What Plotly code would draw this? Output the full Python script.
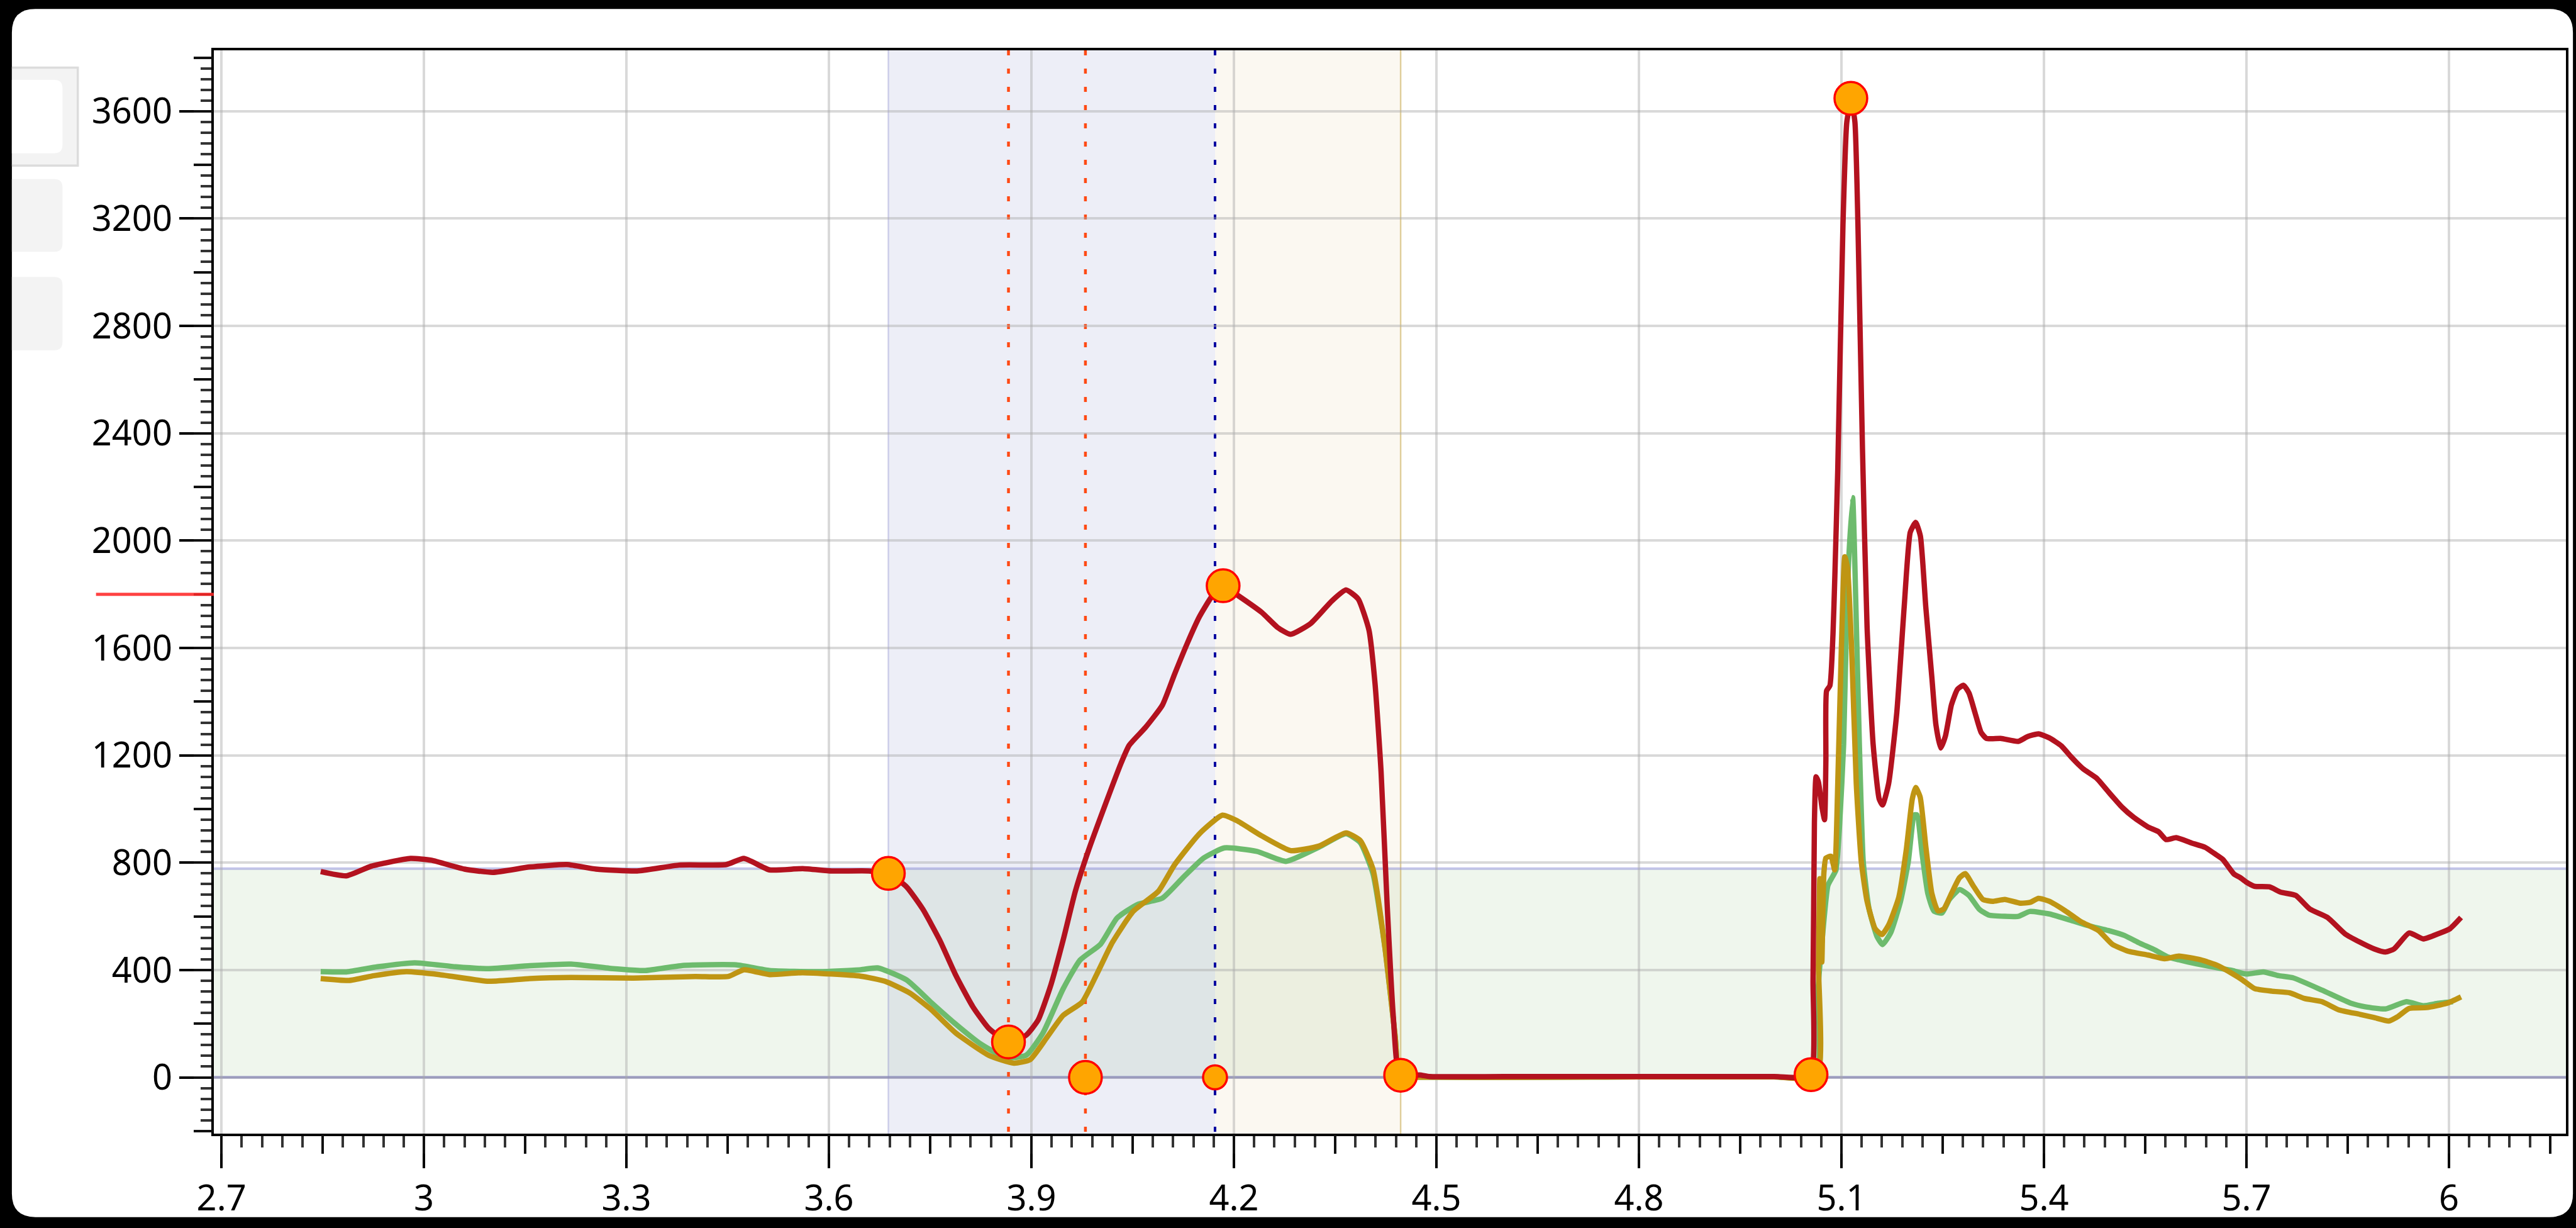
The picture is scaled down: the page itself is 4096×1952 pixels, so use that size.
import plotly.graph_objects as go

# ---------------- data ----------------
red_x = [2.847, 2.885, 2.922, 2.980, 3.011, 3.060, 3.102, 3.157, 3.212, 3.255, 3.316, 3.378,
         3.448, 3.474, 3.512, 3.561, 3.604, 3.659, 3.688, 3.715, 3.739, 3.764, 3.788, 3.813,
         3.837, 3.866, 3.892, 3.910, 3.929, 3.947, 3.965, 3.984, 4.008, 4.033, 4.045, 4.069,
         4.094, 4.112, 4.131, 4.149, 4.167, 4.184, 4.204, 4.241, 4.265, 4.284, 4.314, 4.345,
         4.366, 4.384, 4.400, 4.409, 4.418, 4.427, 4.436, 4.445, 4.460, 4.475, 4.490, 4.600,
         4.800, 5.000, 5.054, 5.058, 5.060, 5.0625, 5.066, 5.071, 5.075, 5.077, 5.078, 5.083,
         5.0875, 5.0903, 5.0946, 5.1023, 5.108, 5.1145, 5.120, 5.1245, 5.1312, 5.138, 5.147,
         5.156, 5.161, 5.170, 5.182, 5.193, 5.202, 5.210, 5.217, 5.225, 5.234, 5.240, 5.247,
         5.254, 5.263, 5.272, 5.281, 5.289, 5.298, 5.307, 5.315, 5.336, 5.362, 5.376, 5.392,
         5.408, 5.426, 5.440, 5.458, 5.478, 5.4955, 5.516, 5.533, 5.554, 5.570, 5.581, 5.596,
         5.618, 5.639, 5.652, 5.665, 5.6815, 5.691, 5.699, 5.712, 5.734, 5.751, 5.773, 5.794,
         5.820, 5.846, 5.868, 5.889, 5.906, 5.919, 5.941, 5.962, 5.984, 6.001, 6.018]
red_y = [767, 751, 787, 816, 809, 776, 764, 784, 793, 776, 769, 791,
         793, 816, 773, 778, 769, 769, 760, 710, 627, 512, 380, 264,
         182, 132, 157, 214, 346, 512, 693, 842, 1007, 1172, 1238, 1304,
         1387, 1502, 1618, 1717, 1791, 1832, 1799, 1733, 1676, 1651, 1692, 1775,
         1816, 1783, 1667, 1469, 1139, 644, 231, 8, 6, 9, 3, 3,
         3, 3, 5, 364, 950, 1120, 1100, 1010, 960, 1180, 1440, 1460,
         1650, 1870, 2265, 3177, 3560, 3640, 3560, 3177, 2342, 1680, 1241,
         1037, 1015, 1095, 1358, 1753, 2031, 2068, 2017, 1753, 1490, 1314, 1227,
         1271, 1388, 1446, 1461, 1432, 1358, 1285, 1263, 1263, 1252, 1270, 1280,
         1265, 1235, 1195, 1150, 1115, 1064, 1006, 969, 933, 915, 886, 893,
         874, 857, 835, 812, 758, 744, 729, 712, 710, 690, 678, 627,
         596, 535, 504, 479, 467, 479, 538, 516, 535, 553, 596]

green_x = [2.847, 2.885, 2.931, 2.986, 3.047, 3.096, 3.157, 3.218, 3.280, 3.328, 3.383, 3.463,
           3.512, 3.586, 3.647, 3.672, 3.715, 3.751, 3.788, 3.825, 3.862, 3.892, 3.917, 3.947,
           3.972, 4.002, 4.027, 4.057, 4.094, 4.124, 4.155, 4.186, 4.234, 4.277, 4.326, 4.366,
           4.387, 4.406, 4.424, 4.439, 4.445, 4.460, 4.800, 5.000, 5.0627, 5.0656, 5.0714, 5.080,
           5.086, 5.092, 5.0975, 5.1033, 5.109, 5.1166, 5.1222, 5.1266, 5.1324, 5.141, 5.1527,
           5.161, 5.173, 5.1876, 5.199, 5.208, 5.212, 5.2196, 5.228, 5.237, 5.249, 5.260,
           5.275, 5.289, 5.304, 5.318, 5.342, 5.362, 5.379, 5.408, 5.4374, 5.4665, 5.4955,
           5.519, 5.542, 5.565, 5.583, 5.600, 5.6263, 5.6553, 5.679, 5.700, 5.725, 5.748,
           5.769, 5.812, 5.855, 5.876, 5.906, 5.937, 5.962, 5.984, 6.006]
green_y = [394, 393, 412, 427, 412, 405, 416, 422, 405, 398, 417, 419,
           398, 394, 401, 408, 363, 280, 198, 124, 74, 82, 165, 330,
           437, 495, 594, 644, 668, 743, 817, 855, 842, 805, 858, 908,
           875, 759, 479, 149, 8, 2, 2, 2, 2, 334, 510, 715,
           744, 773, 949, 1241, 1827, 2160, 1680, 1241, 802, 627, 525,
           495, 539, 656, 802, 978, 978, 832, 685, 620, 612, 663,
           700, 678, 627, 605, 600, 600, 618, 609, 587, 565, 547,
           529, 500, 474, 449, 438, 423, 409, 398, 385, 393, 379,
           371, 325, 276, 263, 255, 282, 267, 276, 282]

gold_x = [2.847, 2.889, 2.926, 2.974, 3.023, 3.096, 3.157, 3.218, 3.310, 3.402, 3.451, 3.474,
          3.512, 3.561, 3.647, 3.683, 3.720, 3.750, 3.788, 3.837, 3.874, 3.898, 3.923, 3.947,
          3.975, 3.996, 4.020, 4.051, 4.088, 4.112, 4.149, 4.183, 4.204, 4.241, 4.284, 4.326,
          4.366, 4.387, 4.406, 4.424, 4.439, 4.445, 4.460, 4.800, 5.000, 5.064, 5.066, 5.068,
          5.071, 5.074, 5.077, 5.0845, 5.090, 5.0946, 5.100, 5.105, 5.109, 5.115, 5.122,
          5.1295, 5.138, 5.150, 5.160, 5.170, 5.185, 5.196, 5.205, 5.210, 5.2167, 5.225,
          5.234, 5.243, 5.2515, 5.263, 5.275, 5.2835, 5.295, 5.3096, 5.324, 5.342, 5.365,
          5.3793, 5.392, 5.408, 5.432, 5.455, 5.481, 5.5013, 5.5246, 5.554, 5.579, 5.600,
          5.632, 5.658, 5.679, 5.693, 5.712, 5.738, 5.764, 5.786, 5.812, 5.8375, 5.868,
          5.889, 5.911, 5.924, 5.941, 5.967, 5.997, 6.018]
gold_y = [368, 361, 379, 394, 383, 358, 368, 372, 370, 376, 376, 401,
          383, 390, 377, 358, 314, 256, 165, 82, 53, 66, 149, 231,
          280, 380, 503, 619, 693, 792, 908, 977, 957, 900, 845, 862,
          911, 883, 776, 479, 149, 8, 2, 2, 2, 2, 420, 740,
          430, 760, 817, 824, 773, 1095, 1607, 1940, 1900, 1607, 1095,
          802, 656, 554, 532, 568, 671, 846, 1037, 1080, 1044, 861,
          685, 620, 627, 685, 744, 759, 715, 663, 656, 663, 649,
          652, 667, 656, 620, 580, 547, 496, 470, 456, 442, 452,
          438, 416, 387, 365, 331, 321, 315, 294, 282, 251, 235,
          223, 210, 226, 257, 260, 276, 300]

# event markers (orange dots)
event_x = [3.688, 3.866, 3.980, 4.172, 4.184, 4.447, 5.055, 5.114]
event_y = [760, 132, 0, 0, 1832, 8, 10, 3648]
event_size = [52, 52, 52, 38, 52, 52, 52, 52]

# shaded windows and cursors
band_low, band_high = 0, 778
window_a = (3.688, 4.172)
window_b = (4.172, 4.447)
cursor_orange = [3.866, 3.980]
cursor_blue = [4.172]
ref_level = 1800

x_tick_vals = [2.7, 3.0, 3.3, 3.6, 3.9, 4.2, 4.5, 4.8, 5.1, 5.4, 5.7, 6.0]
x_tick_text = ["2.7", "3", "3.3", "3.6", "3.9", "4.2", "4.5", "4.8", "5.1", "5.4", "5.7", "6"]
y_tick_vals = [0, 400, 800, 1200, 1600, 2000, 2400, 2800, 3200, 3600]
y_tick_text = ["0", "400", "800", "1200", "1600", "2000", "2400", "2800", "3200", "3600"]

x_range = [2.6887, 6.1734]
y_range = [-209.7, 3827]

# ---------------- geometry ----------------
W, H = 4096, 1952
S = 0.936
L, R, T, B = 340, 4082, 80, 1809


def X(v):
    """design pixel -> paper x"""
    return (v * S - L) / (R - L)


def Y(v):
    """design pixel -> paper y"""
    return (B - v * S) / (B - T)


def rounded(x0, y0, x1, y1, r, left=True):
    if left:
        return (f"M {X(x0 + r)},{Y(y0)} L {X(x1 - r)},{Y(y0)} Q {X(x1)},{Y(y0)} {X(x1)},{Y(y0 + r)} "
                f"L {X(x1)},{Y(y1 - r)} Q {X(x1)},{Y(y1)} {X(x1 - r)},{Y(y1)} "
                f"L {X(x0 + r)},{Y(y1)} Q {X(x0)},{Y(y1)} {X(x0)},{Y(y1 - r)} "
                f"L {X(x0)},{Y(y0 + r)} Q {X(x0)},{Y(y0)} {X(x0 + r)},{Y(y0)} Z")
    return (f"M {X(x0)},{Y(y0)} L {X(x1 - r)},{Y(y0)} Q {X(x1)},{Y(y0)} {X(x1)},{Y(y0 + r)} "
            f"L {X(x1)},{Y(y1 - r)} Q {X(x1)},{Y(y1)} {X(x1 - r)},{Y(y1)} L {X(x0)},{Y(y1)} Z")


shapes = []
# white card on the dark background
shapes.append(dict(type="path", path=rounded(20, 15, 4373, 2075, 40), xref="paper", yref="paper",
                   fillcolor="white", line=dict(width=0), layer="below"))
# side buttons
shapes.append(dict(type="path", xref="paper", yref="paper", layer="below",
                   path=f"M {X(20)},{Y(115)} L {X(132)},{Y(115)} L {X(132)},{Y(282)} L {X(20)},{Y(282)} Z",
                   fillcolor="#f3f3f3", line=dict(width=0)))
shapes.append(dict(type="path", xref="paper", yref="paper", layer="below",
                   path=f"M {X(20)},{Y(115)} L {X(132)},{Y(115)} L {X(132)},{Y(282)} L {X(20)},{Y(282)}",
                   line=dict(color="#dcdcdc", width=3.5)))
shapes.append(dict(type="path", xref="paper", yref="paper", layer="below",
                   path=rounded(20, 136, 106, 261, 14, left=False), fillcolor="white", line=dict(width=0)))
for top, bot in [(305, 429), (472, 597)]:
    shapes.append(dict(type="path", xref="paper", yref="paper", layer="below",
                       path=rounded(20, top, 106, bot, 14, left=False), fillcolor="#f3f3f3",
                       line=dict(width=0)))

# horizontal acceptance band
shapes.append(dict(type="rect", xref="paper", yref="y", x0=0, x1=1, y0=band_low, y1=band_high,
                   fillcolor="rgb(239,246,237)", line=dict(width=0), layer="below"))
# vertical windows
shapes.append(dict(type="rect", xref="x", yref="paper", x0=window_a[0], x1=window_a[1], y0=0, y1=1,
                   fillcolor="rgba(60,70,170,0.09)", line=dict(width=0), layer="below"))
shapes.append(dict(type="rect", xref="x", yref="paper", x0=window_b[0], x1=window_b[1], y0=0, y1=1,
                   fillcolor="rgba(200,170,80,0.08)", line=dict(width=0), layer="below"))
shapes.append(dict(type="line", xref="x", yref="paper", x0=window_a[0], x1=window_a[0], y0=0, y1=1,
                   line=dict(color="rgba(130,130,200,0.35)", width=2.5), layer="below"))
shapes.append(dict(type="line", xref="x", yref="paper", x0=window_b[1], x1=window_b[1], y0=0, y1=1,
                   line=dict(color="rgba(200,170,80,0.55)", width=2.5), layer="below"))
# band edges
shapes.append(dict(type="line", xref="paper", yref="y", x0=0, x1=1, y0=band_high, y1=band_high,
                   line=dict(color="rgba(140,140,215,0.5)", width=4), layer="below"))
shapes.append(dict(type="line", xref="paper", yref="y", x0=0, x1=1, y0=band_low, y1=band_low,
                   line=dict(color="rgba(110,110,190,0.75)", width=4), layer="below"))
# cursors
for cx in cursor_orange:
    shapes.append(dict(type="line", xref="x", yref="paper", x0=cx, x1=cx, y0=1, y1=0,
                       line=dict(color="#ff4a14", width=4.5, dash="8px,21px"), layer="below"))
for cx in cursor_blue:
    shapes.append(dict(type="line", xref="x", yref="paper", x0=cx, x1=cx, y0=1, y1=0,
                       line=dict(color="#0000a0", width=4, dash="8px,21px"), layer="below"))
# reference level mark on the axis
shapes.append(dict(type="line", xref="paper", yref="y", x0=X(163), x1=X(363), y0=ref_level,
                   y1=ref_level, line=dict(color="rgba(255,40,40,0.88)", width=5), layer="above"))

fig = go.Figure()
line_w = 8.5
fig.add_trace(go.Scatter(x=green_x, y=green_y, mode="lines", line=dict(color="#6dbb6d", width=line_w,
                         shape="spline", smoothing=0.5), showlegend=False, hoverinfo="skip"))
fig.add_trace(go.Scatter(x=gold_x, y=gold_y, mode="lines", line=dict(color="#bf9513", width=line_w,
                         shape="spline", smoothing=0.5), showlegend=False, hoverinfo="skip"))
fig.add_trace(go.Scatter(x=red_x, y=red_y, mode="lines", line=dict(color="#b3121f", width=line_w,
                         shape="spline", smoothing=0.5), showlegend=False, hoverinfo="skip"))
fig.add_trace(go.Scatter(x=event_x, y=event_y, mode="markers",
                         marker=dict(color="#ffa500", size=event_size, opacity=1,
                                     line=dict(color="#ff0000", width=3.5)),
                         showlegend=False, hoverinfo="skip"))
# carrier for the intermediate tick axes
fig.add_trace(go.Scatter(x=[None], y=[None], xaxis="x2", yaxis="y2", showlegend=False, hoverinfo="skip"))

font = dict(family="Segoe UI, Noto Sans, sans-serif", size=56, color="#000000")

fig.update_layout(
    width=W, height=H,
    margin=dict(l=L, r=W - R, t=T, b=H - B, pad=0),
    paper_bgcolor="#000000",
    plot_bgcolor="#ffffff",
    font=font,
    shapes=shapes,
    xaxis=dict(range=x_range, tickmode="array", tickvals=x_tick_vals, ticktext=x_tick_text,
               ticks="outside", ticklen=51, tickwidth=3.5, tickcolor="#000000",
               showgrid=True, gridcolor="rgba(170,170,170,0.45)", gridwidth=3.7,
               showline=True, linecolor="#000000", linewidth=3.7, mirror=True, zeroline=False,
               tickfont=font,
               minor=dict(tickmode="linear", tick0=2.7, dtick=0.03, ticks="outside", ticklen=18,
                          tickwidth=3.5, tickcolor="#333333", showgrid=False)),
    yaxis=dict(range=y_range, tickmode="array", tickvals=y_tick_vals, ticktext=y_tick_text,
               ticks="outside", ticklen=51, tickwidth=3.5, tickcolor="#000000",
               showgrid=True, gridcolor="rgba(170,170,170,0.45)", gridwidth=3.7,
               showline=True, linecolor="#000000", linewidth=3.7, mirror=True, zeroline=False,
               tickfont=font,
               minor=dict(tickmode="linear", tick0=0, dtick=40, ticks="outside", ticklen=17,
                          tickwidth=3.5, tickcolor="#333333", showgrid=False)),
    xaxis2=dict(range=x_range, overlaying="x", anchor="y2", side="bottom", tickmode="linear",
                tick0=2.7, dtick=0.15, ticks="outside", ticklen=31, tickwidth=3.5,
                tickcolor="#111111", showticklabels=False, showgrid=False, showline=False,
                zeroline=False),
    yaxis2=dict(range=y_range, overlaying="y", anchor="x2", side="left", tickmode="linear",
                tick0=0, dtick=200, ticks="outside", ticklen=31, tickwidth=3.5,
                tickcolor="#111111", showticklabels=False, showgrid=False, showline=False,
                zeroline=False),
)

fig.write_html("out.html", config={"displayModeBar": False})
